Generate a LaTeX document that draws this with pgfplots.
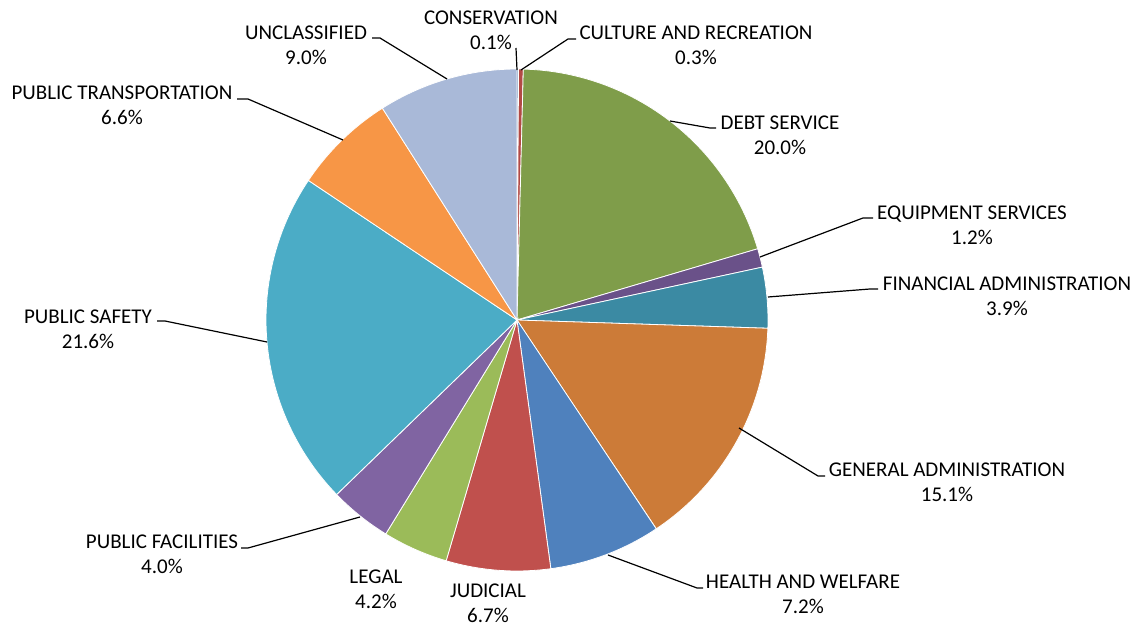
\documentclass[border=0pt]{standalone}
\usepackage{fontspec}
\setmainfont{Carlito}
\usepackage{pgfplots}
\pgfplotsset{compat=1.18}

\definecolor{cCons}{HTML}{4472A8}
\definecolor{cCult}{HTML}{B24A45}
\definecolor{cDebt}{HTML}{7F9D4A}
\definecolor{cEquip}{HTML}{6A5189}
\definecolor{cFin}{HTML}{3B8AA3}
\definecolor{cGen}{HTML}{CC7B38}
\definecolor{cHealth}{HTML}{4F81BD}
\definecolor{cJud}{HTML}{C0504D}
\definecolor{cLegal}{HTML}{9BBB59}
\definecolor{cFac}{HTML}{8064A2}
\definecolor{cSafe}{HTML}{4BACC6}
\definecolor{cTrans}{HTML}{F79646}
\definecolor{cUncl}{HTML}{A9B9D8}

% slice: #1 = cumulative share before the slice (%), #2 = share of the slice (%), #3 = colour
\newcommand\slice[3]{%
  \addplot[fill=#3, draw=white, line width=0.4pt, domain=#1*3.6036:(#1+#2)*3.6036, samples=80, variable=\t]
    ({517+251*sin(\t)},{320-251*cos(\t)}) -- (axis cs:517,320) -- cycle;}

\newcommand\lbl[3]{\node[align=center, font=\fontsize{10.5}{12.6}\selectfont, inner sep=0pt] at (axis cs:#1,#2) {#3};}

\begin{document}
\begin{tikzpicture}
\begin{axis}[
  scale only axis, width=571pt, height=312.5pt,
  xmin=0, xmax=1142, ymin=0, ymax=625, y dir=reverse,
  hide axis, clip=false]
\path (axis cs:0,0) rectangle (axis cs:1142,625);
\slice{0}{0.1}{cCons}
\slice{0.1}{0.3}{cCult}
\slice{0.4}{20.0}{cDebt}
\slice{20.4}{1.2}{cEquip}
\slice{21.6}{3.9}{cFin}
\slice{25.5}{15.1}{cGen}
\slice{40.6}{7.2}{cHealth}
\slice{47.8}{6.7}{cJud}
\slice{54.5}{4.2}{cLegal}
\slice{58.7}{4.0}{cFac}
\slice{62.7}{21.6}{cSafe}
\slice{84.3}{6.6}{cTrans}
\slice{90.9}{9.0}{cUncl}

% leader lines
\draw[black, line width=0.6pt] (axis cs:517,70) -- (axis cs:516,48);
\draw[black, line width=0.6pt] (axis cs:521,70) -- (axis cs:568,39) -- (axis cs:576,39);
\draw[black, line width=0.6pt] (axis cs:447,79) -- (axis cs:380,38) -- (axis cs:372,38);
\draw[black, line width=0.6pt] (axis cs:670,121) -- (axis cs:710,128) -- (axis cs:716,128);
\draw[black, line width=0.6pt] (axis cs:760,257) -- (axis cs:863,218) -- (axis cs:873,218);
\draw[black, line width=0.6pt] (axis cs:768,297) -- (axis cs:870,289) -- (axis cs:878,289);
\draw[black, line width=0.6pt] (axis cs:739,428) -- (axis cs:818,476) -- (axis cs:825,476);
\draw[black, line width=0.6pt] (axis cs:608,555) -- (axis cs:697,588) -- (axis cs:703,588);
\draw[black, line width=0.6pt] (axis cs:360,517) -- (axis cs:248,548) -- (axis cs:241,548);
\draw[black, line width=0.6pt] (axis cs:267,342) -- (axis cs:165,321) -- (axis cs:157,321);
\draw[black, line width=0.6pt] (axis cs:343,140) -- (axis cs:248,99) -- (axis cs:237,99);

% labels
\lbl{491}{30}{CONSERVATION\\0.1\%}
\lbl{696}{45}{CULTURE AND RECREATION\\0.3\%}
\lbl{306}{45}{UNCLASSIFIED\\9.0\%}
\lbl{780}{135}{DEBT SERVICE\\20.0\%}
\lbl{972}{225}{EQUIPMENT SERVICES\\1.2\%}
\lbl{1007}{296}{FINANCIAL ADMINISTRATION\\3.9\%}
\lbl{947}{482}{GENERAL ADMINISTRATION\\15.1\%}
\lbl{803}{594}{HEALTH AND WELFARE\\7.2\%}
\lbl{488}{603}{JUDICIAL\\6.7\%}
\lbl{376}{589}{LEGAL\\4.2\%}
\lbl{162}{554}{PUBLIC FACILITIES\\4.0\%}
\lbl{88}{329}{PUBLIC SAFETY\\21.6\%}
\lbl{122}{105}{PUBLIC TRANSPORTATION\\6.6\%}
\end{axis}
\end{tikzpicture}
\end{document}
